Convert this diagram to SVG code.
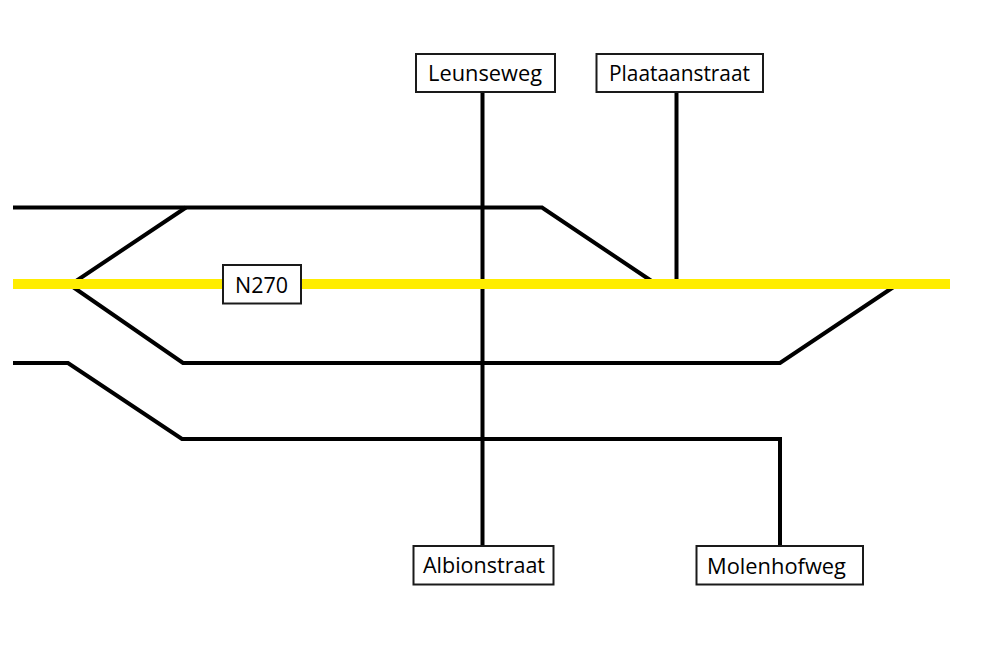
<svg xmlns="http://www.w3.org/2000/svg" width="990" height="652" viewBox="0 0 990 652">
<style>
.c{fill:none;stroke:#000;stroke-width:4}
.y{fill:none;stroke:#ffed00;stroke-width:10}
.b{fill:#fff;stroke:#1a1a1a;stroke-width:2}
text{font-family:"Open Sans","Noto Sans",sans-serif;font-size:21px;fill:#000;text-anchor:middle}
</style>
<rect width="990" height="652" fill="#fff"/>
<g id="connectors">
<path class="c" d="M13 207.500H542L656 284"/>
<path class="c" d="M186 207.500L70 285L183 363H780L898 284"/>
<path class="c" d="M13 363H68L182 439H780V546"/>
<path class="c" d="M482.500 92V546"/>
<path class="c" d="M676.500 92V280"/>
<path class="y" d="M13 284H950"/>
</g>
<g id="n270"><rect class="b" x="223" y="265" width="78" height="38.500"/><text x="261.500" y="293" textLength="53" lengthAdjust="spacingAndGlyphs">N270</text></g>
<g id="leunseweg"><rect class="b" x="416" y="54" width="139" height="38"/><text x="485" y="81" textLength="114" lengthAdjust="spacingAndGlyphs">Leunseweg</text></g>
<g id="plaataanstraat"><rect class="b" x="596.500" y="54" width="166.500" height="38"/><text x="679.500" y="81" textLength="141" lengthAdjust="spacingAndGlyphs">Plaataanstraat</text></g>
<g id="albionstraat"><rect class="b" x="413.500" y="546" width="140" height="38.500"/><text x="484" y="572.500" textLength="122" lengthAdjust="spacingAndGlyphs">Albionstraat</text></g>
<g id="molenhofweg"><rect class="b" x="696.500" y="546" width="166.500" height="38.500"/><text x="776.500" y="574" textLength="139" lengthAdjust="spacingAndGlyphs">Molenhofweg</text></g>
</svg>
